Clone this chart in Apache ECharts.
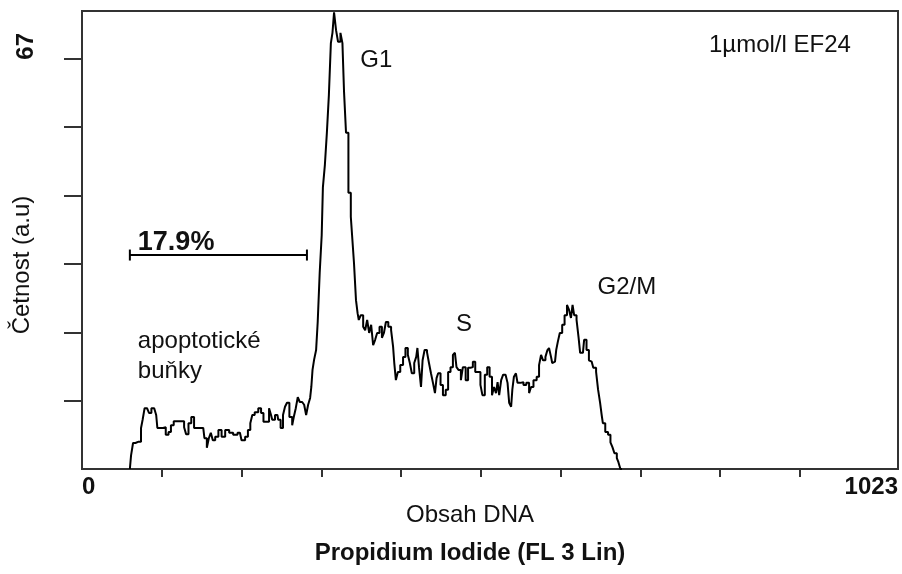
<!DOCTYPE html>
<html><head><meta charset="utf-8">
<script src="https://cdn.jsdelivr.net/npm/echarts@6/dist/echarts.min.js"></script>
<style>html,body{margin:0;padding:0;background:#fff}#c{width:902px;height:574px}</style>
</head><body><div id="c"></div>
<script>
// DNA histogram (channel, count)
const channels = [60,63,65,69,73,75,77,80,83,85,89,92,94,95,100,103,107,110,113,117,122,127,129,132,135,139,142,145,152,155,158,160,163,165,169,173,177,182,187,192,198,202,207,209,213,214,219,223,226,229,233,236,238,239,245,247,251,253,256,258,262,265,266,270,271,275,277,280,282,285,287,288,290,292,295,296,300,301,303,306,308,311,313,315,317,320,322,326,327,330,332,336,338,340,342,345,346,348,351,354,356,359,361,364,366,369,371,375,377,380,382,386,389,391,392,395,397,401,404,407,410,412,415,418,420,421,424,426,428,431,434,436,439,441,444,445,448,451,454,458,460,464,466,469,470,474,476,479,483,485,489,491,495,498,501,503,507,509,513,515,518,520,522,524,527,529,533,534,537,539,540,543,545,547,552,555,559,562,564,568,572,574,577,579,583,584,587,589,590,593,596,597,601,603,607,609,612,614,616,618,622,623,626,628,631,634,637,639,643,646,648,651,652,654,658,661,664,666,669,672,673,677];
const counts = [0,2.0,3.8,4.0,4.0,6.0,7.2,8.9,8.9,8.2,8.9,8.9,7.9,6.0,6.0,6.1,5.0,5.4,6.4,7.0,7.0,7.0,6.1,5.1,6.7,7.6,6.0,6.0,6.0,4.5,3.1,4.5,5.3,4.2,4.7,5.7,4.7,5.7,5.3,5.0,5.3,4.2,4.7,5.7,6.7,7.9,8.3,8.9,8.2,6.9,6.9,8.9,7.9,7.2,7.9,7.2,6.0,7.9,9.1,9.7,7.6,6.4,7.6,8.9,10.5,9.8,9.8,9.4,7.9,9.4,10.4,12.0,14.5,16.0,17.4,21.5,28.7,34.2,41.2,44.5,49.2,54.7,62.3,63.8,66.8,64.2,62.5,63.8,62.3,55.2,49.2,40.4,36.9,33.5,30.1,24.7,22.8,21.8,22.5,20.8,20.3,21.8,19.9,21.1,18.1,18.9,19.9,20.8,19.2,19.9,21.5,20.8,20.3,17.9,15.5,13.0,14.2,15.2,16.4,17.7,16.7,15.5,14.0,15.5,16.4,17.7,14.9,12.0,15.9,17.4,17.1,15.5,14.0,12.6,11.1,13.3,14.0,12.3,10.8,11.6,14.2,14.9,16.7,17.0,14.9,14.5,13.0,14.9,13.0,14.8,14.9,15.7,14.2,14.2,12.3,10.8,13.8,14.9,13.5,10.8,12.0,11.1,12.7,10.8,13.0,13.8,14.0,12.6,9.7,9.1,11.6,13.5,14.0,12.6,12.7,12.3,12.6,11.1,12.0,13.0,13.5,15.2,16.7,15.9,16.4,17.4,17.7,16.4,15.5,15.7,17.4,18.6,19.9,21.1,22.5,24.0,23.3,22.1,24.0,22.5,21.8,19.3,17.0,17.0,18.9,17.4,15.9,15.7,14.8,14.2,11.6,9.7,7.9,6.7,5.4,5.0,3.9,3.2,2.3,1.6,1.0,0];

// axes
const xMin = 0, xMax = 1023, yMin = 0, yMax = 67;
const xTickValues = [100,200,300,400,500,600,700,800,900];
const xLabelValues = [0,1023];
const yTickValues = [10,20,30,40,50,60];
const yLabelValues = [67];
const xAxisName = 'Obsah DNA';
const yAxisName = 'Četnost (a.u)';
const bottomTitle = 'Propidium Iodide (FL 3 Lin)';

// annotations (data coordinates)
const annText = ['G1','1µmol/l EF24','S','G2/M','apoptotické','buňky'];
const annX = [369,875,479,683,70,70];
const annY = [59.8,61.9,21.2,26.6,18.6,14.3];
const annAlign = ['center','center','center','center','left','left'];

// gate marker
const gateX = [60,282];
const gateY = 31.3;
const gateText = '17.9%';
const gateTextX = 70, gateTextY = 33.1;

const FONT = '"Liberation Sans", Arial, sans-serif';
const INK = '#111';

const chart = echarts.init(document.getElementById('c'), null, {renderer:'canvas'});
const annData = annText.map((t,i)=>({
  value:[annX[i], annY[i]],
  label:{show:true, formatter:t, position:'inside', align:annAlign[i], verticalAlign:'middle',
    color:INK, fontSize:24, fontFamily:FONT}
}));
annData.push({
  value:[gateTextX, gateTextY],
  label:{show:true, formatter:gateText, position:'inside', align:'left', verticalAlign:'middle',
    color:INK, fontSize:27, fontWeight:'bold', fontFamily:FONT}
});

chart.setOption({
  animation:false,
  backgroundColor:'#fff',
  grid:{left:82, right:4, top:11, bottom:105, show:true, borderColor:'#333', borderWidth:2,
    containLabel:false, outerBoundsMode:'none'},
  xAxis:{
    type:'value', min:xMin, max:xMax,
    name:xAxisName, nameLocation:'middle', nameGap:34, nameMoveOverlap:false,
    nameTextStyle:{fontSize:24, fontFamily:FONT, color:INK, padding:[0,40,0,0]},
    axisLine:{show:true, lineStyle:{color:'#333', width:2}},
    axisTick:{show:true, customValues:xTickValues, length:8, lineStyle:{color:'#333', width:2}},
    axisLabel:{show:true, customValues:xLabelValues, margin:6, fontSize:24, fontWeight:'bold',
      fontFamily:FONT, color:INK, alignMinLabel:'left', alignMaxLabel:'right',
      formatter:v=>String(v)},
    splitLine:{show:false}
  },
  yAxis:{
    type:'value', min:yMin, max:yMax,
    name:yAxisName, nameLocation:'middle', nameGap:48, nameRotate:90, nameMoveOverlap:false,
    nameTextStyle:{fontSize:24, fontFamily:FONT, color:INK, padding:[0,50,0,0]},
    axisLine:{show:true, lineStyle:{color:'#333', width:2}},
    axisTick:{show:true, customValues:yTickValues, length:18, lineStyle:{color:'#333', width:2}},
    axisLabel:{show:true, customValues:yLabelValues, rotate:90, margin:44, align:'right',
      padding:[0,22,0,0], fontSize:24, fontWeight:'bold', fontFamily:FONT, color:INK,
      formatter:v=>String(v)},
    splitLine:{show:false}
  },
  graphic:[{
    type:'text', x:470, y:553,
    style:{text:bottomTitle, fontSize:24, fontWeight:'bold', fontFamily:FONT, fill:INK,
      align:'center', verticalAlign:'middle'}
  }],
  series:[
    {type:'line', step:'middle', symbol:'none', data:channels.map((c,i)=>[c, counts[i]]),
      lineStyle:{color:'#000', width:2}, z:3},
    {type:'line', symbol:'rect', symbolSize:[2,11], data:gateX.map(g=>[g, gateY]),
      lineStyle:{color:'#000', width:2}, itemStyle:{color:'#000'}, z:3},
    {type:'scatter', symbolSize:0, data:annData, itemStyle:{opacity:1}, z:4}
  ]
});
</script></body></html>
